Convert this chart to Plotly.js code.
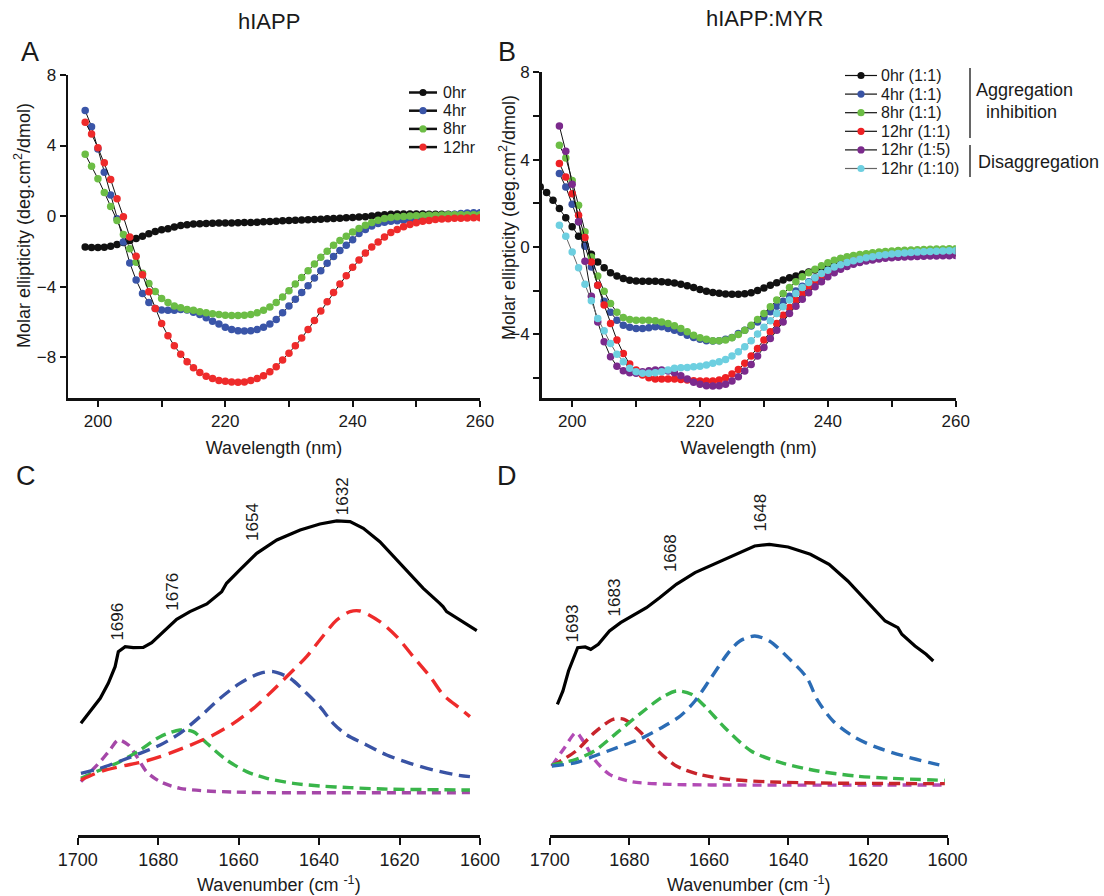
<!DOCTYPE html>
<html><head><meta charset="utf-8">
<script src="https://cdn.plot.ly/plotly-3.0.1.min.js"></script>
<style>html,body{margin:0;padding:0;background:#fff}#chart{width:1104px;height:896px}</style>
</head><body><div id="chart"></div>
<script>
// ---------- Panel A: hIAPP CD spectra ----------
const wavelengthA = [198,199,200,201,202,203,204,205,206,207,208,209,210,211,212,213,214,215,216,217,218,219,220,221,222,223,224,225,226,227,228,229,230,231,232,233,234,235,236,237,238,239,240,241,242,243,244,245,246,247,248,249,250,251,252,253,254,255,256,257,258,259,260];
const a_0hr = [-1.76,-1.78,-1.79,-1.77,-1.72,-1.62,-1.5,-1.38,-1.28,-1.15,-1.0,-0.88,-0.78,-0.72,-0.62,-0.54,-0.49,-0.45,-0.43,-0.42,-0.41,-0.4,-0.4,-0.39,-0.38,-0.37,-0.36,-0.35,-0.33,-0.31,-0.29,-0.27,-0.25,-0.24,-0.23,-0.21,-0.2,-0.18,-0.16,-0.14,-0.12,-0.1,-0.08,-0.06,-0.04,0.0,0.04,0.08,0.1,0.12,0.12,0.12,0.11,0.11,0.1,0.1,0.1,0.1,0.09,0.09,0.08,0.08,0.08];
const a_4hr = [5.98,5.07,3.8,2.49,1.19,-0.15,-1.47,-2.66,-3.63,-4.4,-4.91,-5.25,-5.33,-5.35,-5.35,-5.3,-5.33,-5.45,-5.58,-5.77,-5.97,-6.12,-6.31,-6.44,-6.5,-6.52,-6.5,-6.44,-6.31,-6.12,-5.87,-5.49,-5.1,-4.72,-4.34,-3.96,-3.52,-3.1,-2.68,-2.29,-1.95,-1.66,-1.34,-0.99,-0.76,-0.57,-0.42,-0.35,-0.3,-0.27,-0.24,-0.2,-0.15,-0.1,-0.06,-0.02,0.02,0.06,0.1,0.14,0.17,0.18,0.18];
const a_8hr = [3.5,2.83,2.12,1.34,0.54,-0.25,-1.05,-1.85,-2.62,-3.25,-3.82,-4.28,-4.67,-4.91,-5.1,-5.2,-5.3,-5.35,-5.43,-5.49,-5.54,-5.58,-5.62,-5.64,-5.64,-5.62,-5.58,-5.49,-5.35,-5.16,-4.91,-4.59,-4.24,-3.86,-3.48,-3.1,-2.72,-2.33,-1.99,-1.66,-1.38,-1.15,-0.9,-0.71,-0.52,-0.36,-0.24,-0.14,-0.08,-0.04,-0.02,0.0,0.02,0.03,0.04,0.05,0.06,0.07,0.08,0.08,0.08,0.08,0.08];
const a_12hr = [5.32,4.65,3.88,3.02,2.07,0.98,-0.04,-1.19,-2.28,-3.33,-4.3,-5.24,-6.1,-6.79,-7.36,-7.84,-8.26,-8.6,-8.87,-9.08,-9.22,-9.33,-9.37,-9.41,-9.42,-9.41,-9.33,-9.22,-9.06,-8.83,-8.55,-8.16,-7.78,-7.36,-6.92,-6.44,-5.93,-5.39,-4.86,-4.34,-3.86,-3.38,-2.91,-2.49,-2.1,-1.76,-1.47,-1.19,-0.94,-0.76,-0.61,-0.48,-0.38,-0.3,-0.25,-0.2,-0.17,-0.15,-0.13,-0.12,-0.11,-0.1,-0.1];
const namesA = ["0hr","4hr","8hr","12hr"];

// ---------- Panel B: hIAPP:MYR CD spectra ----------
const wavelengthB0 = [195,196,197,198,199,200,201,202,203,204,205,206,207,208,209,210,211,212,213,214,215,216,217,218,219,220,221,222,223,224,225,226,227,228,229,230,231,232,233,234,235,236,237,238,239,240,241,242,243,244,245,246,247,248,249,250,251,252,253,254,255,256,257,258,259,260];
const wavelengthB = [198,199,200,201,202,203,204,205,206,207,208,209,210,211,212,213,214,215,216,217,218,219,220,221,222,223,224,225,226,227,228,229,230,231,232,233,234,235,236,237,238,239,240,241,242,243,244,245,246,247,248,249,250,251,252,253,254,255,256,257,258,259,260];
const b_0hr = [2.75,2.49,2.14,1.76,1.34,0.92,0.49,0.08,-0.34,-0.69,-0.96,-1.19,-1.34,-1.45,-1.53,-1.57,-1.58,-1.58,-1.58,-1.6,-1.62,-1.66,-1.71,-1.78,-1.86,-1.95,-2.03,-2.09,-2.13,-2.16,-2.17,-2.17,-2.15,-2.1,-2.0,-1.88,-1.76,-1.64,-1.52,-1.42,-1.33,-1.24,-1.15,-1.06,-0.98,-0.91,-0.84,-0.78,-0.72,-0.66,-0.61,-0.56,-0.51,-0.46,-0.42,-0.38,-0.35,-0.32,-0.29,-0.26,-0.24,-0.22,-0.2,-0.18,-0.17,-0.16];
const b_4hr = [3.36,2.75,1.95,1.15,0.03,-0.92,-1.76,-2.49,-3.0,-3.36,-3.59,-3.69,-3.74,-3.74,-3.71,-3.66,-3.66,-3.74,-3.82,-3.92,-4.05,-4.15,-4.24,-4.31,-4.32,-4.31,-4.24,-4.15,-3.97,-3.82,-3.63,-3.44,-3.21,-2.98,-2.72,-2.49,-2.26,-2.02,-1.8,-1.6,-1.42,-1.25,-1.1,-0.96,-0.84,-0.75,-0.67,-0.6,-0.54,-0.48,-0.43,-0.38,-0.34,-0.31,-0.28,-0.26,-0.24,-0.22,-0.21,-0.2,-0.19,-0.18,-0.18];
const b_8hr = [4.66,4.08,3.05,1.91,0.69,-0.46,-1.34,-2.03,-2.6,-3.0,-3.24,-3.33,-3.36,-3.36,-3.36,-3.39,-3.44,-3.51,-3.62,-3.74,-3.89,-4.05,-4.17,-4.24,-4.31,-4.31,-4.27,-4.17,-4.02,-3.82,-3.59,-3.33,-3.05,-2.75,-2.44,-2.14,-1.86,-1.6,-1.37,-1.19,-1.02,-0.87,-0.73,-0.61,-0.52,-0.45,-0.4,-0.35,-0.31,-0.27,-0.24,-0.21,-0.19,-0.17,-0.15,-0.14,-0.13,-0.12,-0.11,-0.1,-0.1,-0.09,-0.09];
const b_12hr = [3.82,3.21,2.44,1.45,0.43,-0.69,-1.76,-2.67,-3.51,-4.27,-4.89,-5.37,-5.65,-5.88,-6.0,-6.06,-6.06,-6.06,-6.06,-6.08,-6.11,-6.14,-6.15,-6.15,-6.15,-6.11,-6.0,-5.83,-5.62,-5.34,-5.0,-4.66,-4.27,-3.89,-3.51,-3.13,-2.78,-2.44,-2.14,-1.86,-1.6,-1.37,-1.19,-1.0,-0.85,-0.73,-0.65,-0.58,-0.52,-0.47,-0.43,-0.4,-0.37,-0.35,-0.33,-0.32,-0.31,-0.3,-0.3,-0.29,-0.29,-0.28,-0.28];
const b_12hr_15 = [5.54,4.38,2.87,1.15,-0.66,-2.26,-3.44,-4.35,-5.04,-5.47,-5.68,-5.77,-5.8,-5.73,-5.68,-5.65,-5.65,-5.69,-5.77,-5.91,-6.06,-6.21,-6.3,-6.37,-6.38,-6.37,-6.3,-6.15,-5.95,-5.69,-5.39,-5.0,-4.61,-4.2,-3.82,-3.44,-3.05,-2.72,-2.4,-2.1,-1.83,-1.6,-1.37,-1.19,-1.02,-0.9,-0.8,-0.72,-0.65,-0.6,-0.56,-0.52,-0.5,-0.48,-0.46,-0.45,-0.44,-0.43,-0.42,-0.42,-0.41,-0.41,-0.4];
const b_12hr_110 = [0.99,0.49,-0.23,-0.96,-1.71,-2.47,-3.28,-3.85,-4.43,-4.92,-5.27,-5.57,-5.73,-5.8,-5.8,-5.77,-5.73,-5.65,-5.57,-5.54,-5.53,-5.5,-5.47,-5.42,-5.34,-5.27,-5.16,-5.0,-4.81,-4.58,-4.31,-4.0,-3.69,-3.39,-3.05,-2.75,-2.44,-2.14,-1.86,-1.63,-1.42,-1.22,-1.07,-0.92,-0.82,-0.72,-0.64,-0.57,-0.5,-0.45,-0.4,-0.36,-0.33,-0.3,-0.28,-0.26,-0.24,-0.22,-0.21,-0.2,-0.19,-0.18,-0.18];
const namesB = ["0hr (1:1)","4hr (1:1)","8hr (1:1)","12hr (1:1)","12hr (1:5)","12hr (1:10)"];
const groupLabels = ["Aggregation", "inhibition", "Disaggregation"];

// ---------- Panel C: FTIR hIAPP ----------
const c_total_wn = [1699.2,1696.9,1694.4,1692.4,1690.7,1689.9,1688.2,1686.2,1683.7,1681.6,1678.7,1675.4,1672.1,1667.9,1664.2,1663,1659.7,1655.5,1650.5,1644.7,1639.8,1635.6,1632.3,1629,1624.9,1619.9,1614.1,1610,1609.2,1608.3,1605,1600.8];
const c_total = [33.5,37,41,45.5,50.5,55,56.5,56.2,56.3,57.7,61,64.7,67,69.3,73,75.5,79.5,84.5,88.5,91.5,93.3,94.2,94,92,88,81.5,74,69.5,68.5,67,64.5,61.3];
const c_1632_wn = [1699.2,1694.4,1689.5,1683.7,1679.5,1672.9,1666.3,1661.3,1656.3,1651.4,1647.2,1643.1,1639.8,1635.6,1632.3,1629.8,1624.9,1620.7,1616.6,1612.4,1609.1,1605,1602.5];
const c_1632 = [16.5,19,20.5,22,23.5,26.5,30,33.5,38,43.5,48.5,53.5,58.5,64.5,67,67.2,64,59.5,53.5,47.5,42,38,35.5];
const c_1654_wn = [1699.2,1694.4,1684.5,1679.5,1674.6,1669.6,1664.6,1659.7,1654.7,1651.4,1647.2,1643.1,1639.8,1636.5,1633.1,1628.2,1623.2,1617.4,1611.6,1605.8,1602.5];
const c_1654 = [18.5,20,24.5,27,30.5,35.5,41,45.5,48.5,49,47,42.5,38.5,33.5,30,27,24,21.5,19.5,18,17.5];
const c_1676_wn = [1699.2,1694.4,1689.5,1684.5,1679.5,1674.6,1671.3,1667.9,1663,1658,1653,1646.4,1639.8,1632.3,1624.1,1602.5];
const c_1676 = [17,19.5,22,25.5,29.5,31.5,31,27.5,22.5,19,17,15.5,14.7,14.2,13.8,13.5];
const c_1696_wn = [1699.2,1694.4,1692,1689.9,1687.4,1685.3,1682.9,1679.5,1674.6,1668,1661.3,1653,1602.5];
const c_1696 = [16,22,25.5,28.5,27,23.5,19,16,14,13.2,12.9,12.7,12.7];
const peaksC = ["1696","1676","1654","1632"];

// ---------- Panel D: FTIR hIAPP:MYR ----------
const d_total_wn = [1698.1,1696.7,1695.3,1693.6,1693,1691.1,1689.7,1687.8,1685,1682.2,1679.4,1675.7,1672.4,1668.2,1663.5,1657.9,1653.2,1648.5,1644.8,1640.1,1634.5,1629.8,1625.1,1620.4,1615.7,1612.5,1611.5,1608.2,1605.4,1603.6];
const d_total = [39.2,43.2,49.2,54.7,56.2,56.4,55.7,57.2,61.2,63.7,65.7,68.2,71.2,75.2,78.7,81.7,84.4,86.7,87.2,86.4,84.2,81.2,76.2,70.2,64.2,62.2,60.2,56.7,54.2,52.2];
const d_1648_wn = [1699.5,1693.4,1688.8,1683.1,1677.5,1671.9,1667.2,1663.5,1659.7,1655.1,1652.2,1648.5,1644.8,1640.1,1635.4,1632.6,1628.8,1623.2,1617.6,1611,1604.5,1600.7];
const d_1648 = [20.7,21.7,23.7,26.2,28.7,32.2,35.7,40.2,46.7,54.7,58.2,59.7,58.2,53.2,47.2,40.2,34.2,29.2,26.2,23.7,21.7,20.7];
const d_1668_wn = [1699.5,1693.4,1688.8,1683.1,1677.5,1671.9,1668.2,1664.4,1660.7,1656,1649.4,1641.9,1632.6,1623.2,1613.9,1600.7];
const d_1668 = [21,22.7,25.2,30.7,36.2,41.2,43.2,42.2,38.2,32.2,25.2,21.7,19.2,17.7,17,16.4];
const d_1683_wn = [1699.5,1693.4,1688.8,1684.1,1681.3,1677.5,1672.8,1668.2,1662.5,1655.1,1645.7,1632.6,1600.7];
const d_1683 = [20.7,25.2,30.7,34.7,34.7,31.2,25.2,20.7,18.2,16.7,16,15.6,15.4];
const d_1693_wn = [1699.5,1696.3,1693.4,1691.6,1688.8,1685,1679.4,1670,1656,1600.7];
const d_1693 = [20.7,26.2,30.7,28.2,22.7,18.2,16,15.2,15,15];
const peaksD = ["1693","1683","1668","1648"];

// ---------- build ----------
const FONT = "Liberation Sans, Arial, sans-serif";
const INK = "#1a1a1a";
const W = 1104, H = 896;
const px = v => v / W;
const py = v => 1 - v / H;

function cd(x, y, name, color, xa, ya, lineColor) {
  return {type: "scatter", mode: "lines+markers", x: x, y: y, name: name,
    xaxis: xa, yaxis: ya, showlegend: false,
    line: {color: lineColor || "#111", width: 1},
    marker: {color: color, size: 7.5, line: {width: 0}}};
}
function ir(x, y, color, dash, xa, ya, solid) {
  return {type: "scatter", mode: "lines", x: x, y: y, xaxis: xa, yaxis: ya, showlegend: false,
    hoverinfo: "skip",
    line: {color: color, width: solid ? 3.2 : 3.4, dash: solid ? "solid" : dash,
           shape: solid ? "linear" : "spline", smoothing: 0.8}};
}

const colA = ["#111111", "#3a55a8", "#6cbd45", "#ee2b2b"];
const colB = ["#111111", "#3953a4", "#6cbd45", "#ee2024", "#7b2a8c", "#6dcfe0"];
const lineB = ["#111111", "#111111", "#111111", "#111111", "#111111", "#666666"];

const traces = [
  cd(wavelengthA, a_0hr, namesA[0], colA[0], "x", "y"),
  cd(wavelengthA, a_4hr, namesA[1], colA[1], "x", "y"),
  cd(wavelengthA, a_8hr, namesA[2], colA[2], "x", "y"),
  cd(wavelengthA, a_12hr, namesA[3], colA[3], "x", "y"),
  cd(wavelengthB0, b_0hr, namesB[0], colB[0], "x2", "y2"),
  cd(wavelengthB, b_4hr, namesB[1], colB[1], "x2", "y2"),
  cd(wavelengthB, b_8hr, namesB[2], colB[2], "x2", "y2"),
  cd(wavelengthB, b_12hr, namesB[3], colB[3], "x2", "y2"),
  cd(wavelengthB, b_12hr_15, namesB[4], colB[4], "x2", "y2"),
  cd(wavelengthB, b_12hr_110, namesB[5], colB[5], "x2", "y2", lineB[5]),
  ir(c_1696_wn, c_1696, "#a547a8", "9px,6px", "x3", "y3"),
  ir(c_1676_wn, c_1676, "#39b54a", "11px,6px", "x3", "y3"),
  ir(c_1654_wn, c_1654, "#3953a4", "13px,7px", "x3", "y3"),
  ir(c_1632_wn, c_1632, "#ee2b2b", "15px,8px", "x3", "y3"),
  ir(c_total_wn, c_total, "#000000", null, "x3", "y3", true),
  ir(d_1693_wn, d_1693, "#b24bb5", "9px,6px", "x4", "y4"),
  ir(d_1683_wn, d_1683, "#c8242b", "11px,6px", "x4", "y4"),
  ir(d_1668_wn, d_1668, "#39b54a", "11px,6px", "x4", "y4"),
  ir(d_1648_wn, d_1648, "#2b6cb5", "12px,7px", "x4", "y4"),
  ir(d_total_wn, d_total, "#000000", null, "x4", "y4", true)
];

const axLine = {ticks: "outside", tickwidth: 2, tickcolor: "#111", showline: true, linewidth: 2.5,
  linecolor: "#111", showgrid: false, zeroline: false};

function cdX(domain, range, anchor) {
  return Object.assign({domain: domain, range: range, anchor: anchor, tick0: 200, dtick: 20, ticklen: 6,
    minor: {dtick: 10, tick0: 200, ticks: "outside", ticklen: 6, tickwidth: 2, tickcolor: "#111", showgrid: false},
    tickfont: {size: 17, color: INK},
    title: {text: "Wavelength (nm)", font: {size: 18, color: INK}, standoff: 12}}, axLine);
}
function cdY(domain, range, anchor, minorOn) {
  const o = Object.assign({domain: domain, range: range, anchor: anchor, tick0: 0, dtick: 4, ticklen: 6,
    tickfont: {size: 17, color: INK}}, axLine);
  if (minorOn) o.minor = {dtick: 2, tick0: 0, ticks: "outside", ticklen: 6, tickwidth: 2, tickcolor: "#111", showgrid: false};
  return o;
}
function irX(domain, anchor) {
  return Object.assign({domain: domain, range: [1700, 1600], anchor: anchor, tick0: 1600, dtick: 20, ticklen: 7,
    tickfont: {size: 18, color: INK},
    title: {text: "Wavenumber (cm <sup>-1</sup>)", font: {size: 18, color: INK}, standoff: 10}}, axLine);
}
function irY(domain, anchor) {
  return {domain: domain, range: [0, 110], anchor: anchor, visible: false, fixedrange: true};
}

function ann(text, x, y, size, extra) {
  return Object.assign({text: text, x: px(x), y: py(y), xref: "paper", yref: "paper",
    showarrow: false, xanchor: "center", yanchor: "middle", font: {size: size, color: INK}}, extra || {});
}
function peak(text, xa, ya, wn, v) {
  return {text: text, x: wn, y: v, xref: xa, yref: ya, showarrow: false, textangle: -90,
    xanchor: "center", yanchor: "middle", font: {size: 17, color: INK}};
}

const peakPosC = [[1690.0, 64], [1676.3, 73], [1656.6, 94], [1634.0, 101.7]];
const peakPosD = [[1694.4, 63.5], [1683.5, 71.4], [1669.5, 84.6], [1647.0, 96.6]];
const yTitle = "Molar ellipticity (deg.cm<sup>2</sup>/dmol)";

const annotations = [
  ann("hIAPP", 269, 22, 22),
  ann("hIAPP:MYR", 764, 19, 22),
  ann("A", 30, 52, 27),
  ann("B", 507, 52, 27),
  ann("C", 26, 476, 27),
  ann("D", 507, 476, 27),
  ann(yTitle, 23, 226, 18, {textangle: -90}),
  ann(yTitle, 508, 218, 18, {textangle: -90}),
  ann(groupLabels[0], 1024, 90, 18),
  ann(groupLabels[1], 1021, 112, 18),
  ann(groupLabels[2], 1038, 162, 18)
];
peaksC.forEach((t, i) => annotations.push(peak(t, "x3", "y3", peakPosC[i][0], peakPosC[i][1])));
peaksD.forEach((t, i) => annotations.push(peak(t, "x4", "y4", peakPosD[i][0], peakPosD[i][1])));

const shapes = [
  {type: "line", xref: "paper", yref: "paper", x0: px(970), x1: px(970), y0: py(68), y1: py(138), line: {color: "#333", width: 1.5}},
  {type: "line", xref: "paper", yref: "paper", x0: px(970), x1: px(970), y0: py(145), y1: py(177), line: {color: "#333", width: 1.5}}
];

// hand-drawn legends (tighter row spacing than Plotly's built-in legend allows)
function legendBlock(names, colors, lineColors, x0, y0, dy, lineW, lineLen, textGap) {
  names.forEach((nm, i) => {
    const y = y0 + i * dy, cx = x0 + lineLen / 2, r = 3.6;
    shapes.push({type: "line", xref: "paper", yref: "paper", x0: px(x0), x1: px(x0 + lineLen), y0: py(y), y1: py(y),
      line: {color: lineColors[i], width: lineW}});
    shapes.push({type: "circle", xref: "paper", yref: "paper", x0: px(cx - r), x1: px(cx + r), y0: py(y + r), y1: py(y - r),
      fillcolor: colors[i], line: {width: 0}});
    annotations.push({text: nm, x: px(x0 + lineLen + textGap), y: py(y), xref: "paper", yref: "paper", showarrow: false,
      xanchor: "left", yanchor: "middle", font: {size: 16, color: INK}});
  });
}
legendBlock(namesA, colA, ["#111","#111","#111","#111"], 409, 92.5, 18.2, 2.5, 28, 4);
legendBlock(namesB, colB, lineB, 845, 75.5, 18.6, 1.2, 32, 2);

const layout = {
  width: W, height: H, margin: {l: 0, r: 0, t: 0, b: 0},
  paper_bgcolor: "#fff", plot_bgcolor: "rgba(0,0,0,0)",
  font: {family: FONT, color: INK},
  showlegend: false,
  xaxis: cdX([px(68), px(480)], [195.3, 260], "y"),
  yaxis: cdY([py(398), py(75)], [-10.32, 8.0], "x", false),
  xaxis2: cdX([px(541.5), px(955.7)], [195.2, 260], "y2"),
  yaxis2: cdY([py(398), py(72)], [-6.93, 8.02], "x2", true),
  xaxis3: irX([px(77.7), px(480)], "y3"),
  yaxis3: irY([py(835), py(468.3)], "x3"),
  xaxis4: irX([px(549.8), px(947.6)], "y4"),
  yaxis4: irY([py(835), py(468.3)], "x4"),
  shapes: shapes,
  annotations: annotations
};

Plotly.newPlot("chart", traces, layout, {displayModeBar: false, staticPlot: true});
</script></body></html>
